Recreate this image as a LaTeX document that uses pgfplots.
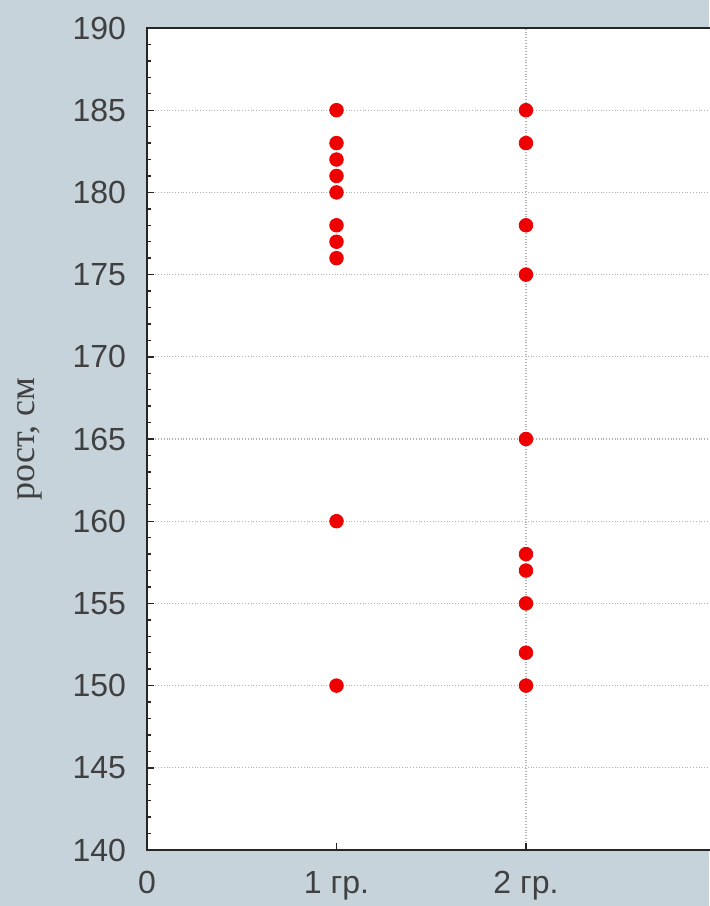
\documentclass[border=0pt]{standalone}
\usepackage{fontspec}
\setmainfont{Liberation Sans}
\newfontfamily\serifcyr{Liberation Serif}
\usepackage{pgfplots}
\pgfplotsset{compat=1.18}
\definecolor{bgcol}{RGB}{199,211,219}
\definecolor{ptred}{RGB}{238,0,0}

\begin{document}
\begin{tikzpicture}
% grey-blue background of the whole window
\fill[bgcol] (-73.5pt,-28pt) rectangle (281pt,425pt);
\path[use as bounding box] (-73.5pt,-28pt) rectangle (281pt,425pt);
\begin{axis}[
    at={(0pt,0pt)}, anchor=south west,
    scale only axis,
    width=284.25pt, height=411pt,
    xmin=0, xmax=3,
    ymin=140, ymax=190,
    xtick={0,1}, xticklabels={0,1 гр.},
    extra x ticks={2}, extra x tick labels={2 гр.},
    extra x tick style={grid=major},
    ytick={140,145,...,190},
    minor y tick num=4,
    xtick pos=bottom, ytick pos=left,
    tick align=inside,
    major tick length=3.5pt, minor tick length=2pt,
    ymajorgrids,
    major grid style={gray!60, densely dotted, line width=0.6pt},
    axis line style={black!85, line width=1pt},
    tick style={black!85, line width=0.7pt},
    axis background/.style={fill=white},
    /pgf/number format/assume math mode=true,
    tick label style={font=\fontsize{16}{19}\selectfont, text=black!75},
    yticklabel style={xshift=-7pt},
    xticklabel style={yshift=-7pt},
    ylabel={рост, см},
    ylabel style={font=\serifcyr\fontsize{18}{21}\selectfont, text=black!75,
        at={(axis description cs:-0.206,0.5)}, anchor=center},
]
% 1 gr.
\addplot[only marks, mark=*, mark size=3.4pt, color=ptred] coordinates {
    (1,185) (1,183) (1,182) (1,181) (1,180)
    (1,178) (1,177) (1,176) (1,160) (1,150)
};
% 2 gr.
\addplot[only marks, mark=*, mark size=3.4pt, color=ptred] coordinates {
    (2,185) (2,183) (2,178) (2,175) (2,165)
    (2,158) (2,157) (2,155) (2,152) (2,150)
};
\end{axis}
\end{tikzpicture}
\end{document}
